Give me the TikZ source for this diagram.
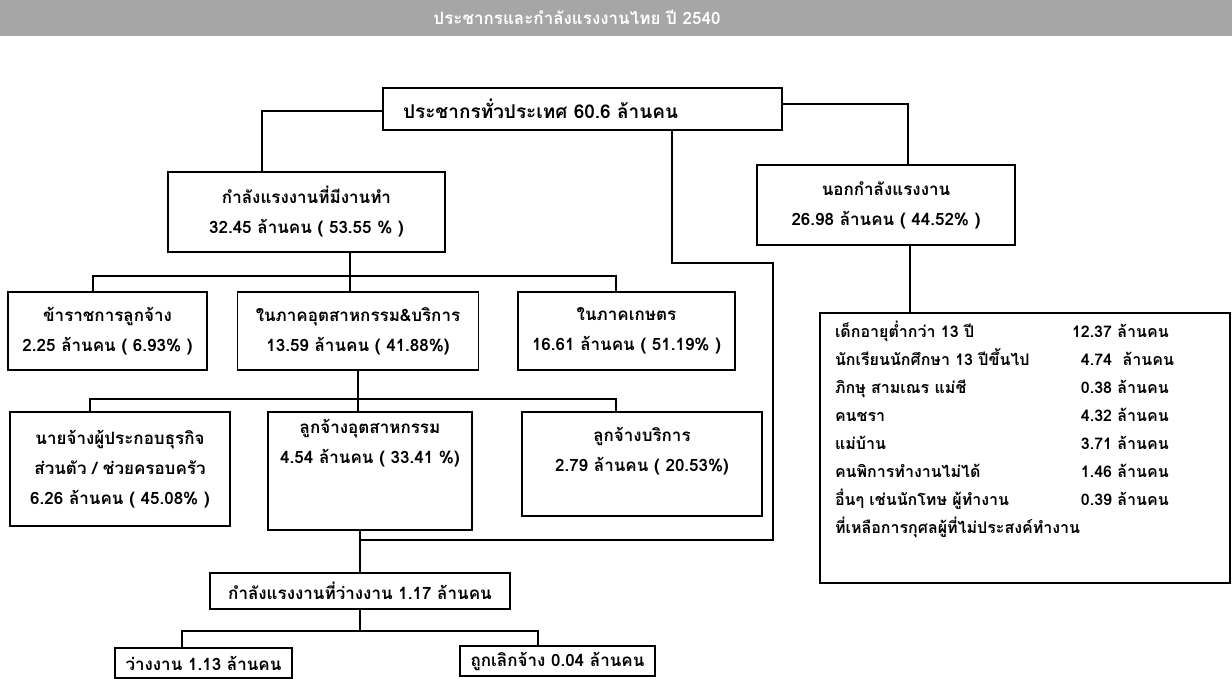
\documentclass[tikz,border=0pt]{standalone}
\usepackage{fontspec}
\newfontfamily\thaifont[Script=Thai]{Loma}
\usetikzlibrary{positioning}

\begin{document}
\begin{tikzpicture}[x=1pt,y=-1pt,
  box/.style={draw, line width=1.5pt, inner sep=0pt, align=center,
    font=\thaifont\bfseries\fontsize{17}{30}\selectfont},
  link/.style={line width=1.5pt}]
\useasboundingbox (0,0) rectangle (1232,679);
\fill[black!35] (0,0) rectangle (1232,36);
\node[font=\thaifont\bfseries\fontsize{17}{20}\selectfont, text=white] (title) at (577,17) {ประชากรและกำลังแรงงานไทย ปี 2540};
\node[box, minimum width=399pt, minimum height=42pt, text width=359pt, inner xsep=20pt, align=left,
  font=\thaifont\bfseries\fontsize{19}{30}\selectfont] (top) at (582.5,109) {ประชากรทั่วประเทศ 60.6 ล้านคน};
\node[box, minimum width=277pt, minimum height=80pt] (emp) at (306.5,212) {กำลังแรงงานที่มีงานทำ\\32.45 ล้านคน ( 53.55 \% )};
\node[box, minimum width=258pt, minimum height=80pt] (nlf) at (886,205) {นอกกำลังแรงงาน\\26.98 ล้านคน ( 44.52\% )};
\node[box, minimum width=199pt, minimum height=78pt] (gov) at (107.5,331) {ข้าราชการลูกจ้าง\\2.25 ล้านคน ( 6.93\% )};
\node[box, minimum width=241pt, minimum height=78pt] (ind) at (358,331) {ในภาคอุตสาหกรรม\&บริการ\\13.59 ล้านคน ( 41.88\%)};
\node[box, minimum width=217pt, minimum height=78pt] (agr) at (626.5,331) {ในภาคเกษตร\\16.61 ล้านคน ( 51.19\% )};
\node[box, minimum width=220pt, minimum height=114pt] (empl) at (120,469) {นายจ้างผู้ประกอบธุรกิจ\\ส่วนตัว / ช่วยครอบครัว\\6.26 ล้านคน ( 45.08\% )};
\node[box, minimum width=204pt, minimum height=118pt] (indw) at (370,471) {ลูกจ้างอุตสาหกรรม\\4.54 ล้านคน ( 33.41 \%)\\~\\~};
\node[box, minimum width=240pt, minimum height=104pt] (srvw) at (642,464) {ลูกจ้างบริการ\\2.79 ล้านคน ( 20.53\%)\\~};
\node[box, minimum width=300pt, minimum height=36pt] (unemp) at (360,591) {กำลังแรงงานที่ว่างงาน 1.17 ล้านคน};
\node[box, minimum width=177pt, minimum height=30pt] (jobless) at (203.5,663) {ว่างงาน 1.13 ล้านคน};
\node[box, minimum width=195pt, minimum height=30pt] (laidoff) at (557.5,661) {ถูกเลิกจ้าง 0.04 ล้านคน};
\node[box, minimum width=410pt, minimum height=270pt, text width=380pt, inner xsep=15pt, align=left,
  font=\thaifont\bfseries\fontsize{16}{28}\selectfont] (rest) at (1025,448) {%
  \begin{tabular}{@{}p{225pt}r@{\ }l@{}}
  เด็กอายุต่ำกว่า 13 ปี & 12.37 & ล้านคน\\
  นักเรียนนักศึกษา 13 ปีขึ้นไป & 4.74 & \ ล้านคน\\
  ภิกษุ สามเณร แม่ชี & 0.38 & ล้านคน\\
  คนชรา & 4.32 & ล้านคน\\
  แม่บ้าน & 3.71 & ล้านคน\\
  คนพิการทำงานไม่ได้ & 1.46 & ล้านคน\\
  อื่นๆ เช่นนักโทษ ผู้ทำงาน & 0.39 & ล้านคน\\
  ที่เหลือการกุศลผู้ที่ไม่ประสงค์ทำงาน & & \\[36pt]
  \end{tabular}};
\coordinate (bus1) at (0,276);
\coordinate (bus2) at (0,399);
\coordinate (bus3) at (0,631);
\coordinate (elbow) at (773,263);
\coordinate (join) at (773,540);
\draw[link] ([yshift=-2pt]top.west) -| ([xshift=-44.5pt]emp.north);
\draw[link] ([yshift=5pt]top.east) -| ([xshift=22pt]nlf.north);
\draw[link] ([xshift=89.5pt]top.south) |- (elbow) -- (join) -- (join -| unemp.north);
\draw[link] ([xshift=43.5pt]emp.south) -- ([xshift=43.5pt]emp.south |- ind.north);
\draw[link] ([xshift=-14.5pt]gov.north) |- ([xshift=-10.5pt]agr.north |- bus1) -- ([xshift=-10.5pt]agr.north);
\draw[link] (ind.south) -- (ind.south |- indw.north);
\draw[link] ([xshift=-30pt]empl.north) |- ([xshift=-26pt]srvw.north |- bus2) -- ([xshift=-26pt]srvw.north);
\draw[link] ([xshift=-10pt]indw.south) -- (unemp.north);
\draw[link] (unemp.south) -- (unemp.south |- bus3);
\draw[link] ([xshift=-21.5pt]jobless.north) |- ([xshift=-19.5pt]laidoff.north |- bus3) -- ([xshift=-19.5pt]laidoff.north);
\draw[link] ([xshift=24pt]nlf.south) -- ([xshift=24pt]nlf.south |- rest.north);
\end{tikzpicture}
\end{document}
